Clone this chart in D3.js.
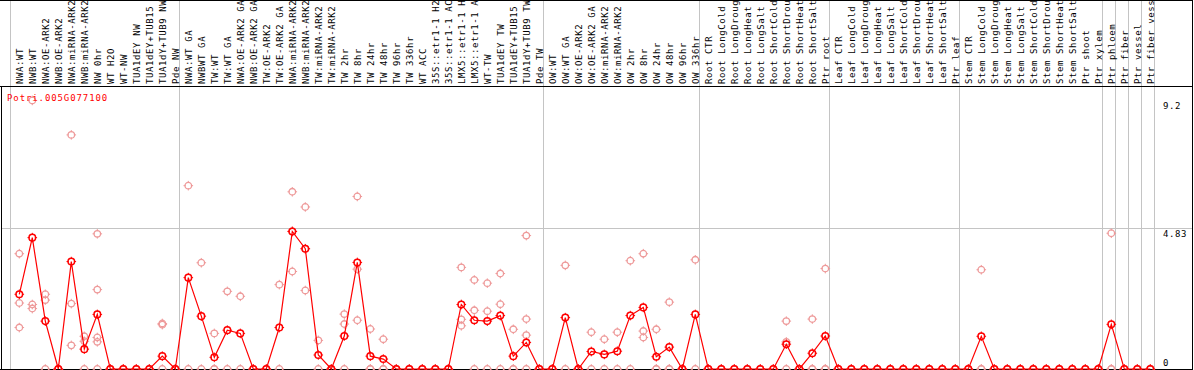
<!DOCTYPE html>
<html>
<head>
<meta charset="utf-8">
<script src="https://cdn.jsdelivr.net/npm/d3@7"></script>
<style>
  body { margin: 0; background: #fff; }
  svg { display: block; }
  text { font-family: 'DejaVu Sans Mono', monospace; font-size: 9px; letter-spacing: 0.6px; }
</style>
</head>
<body>
<div id="chart"></div>
<script>
const gene = 'Potri.005G077100';

const samples = [
  'NWA:WT', 'NWB:WT', 'NWA:OE-ARK2', 'NWB:OE-ARK2', 'NWA:miRNA-ARK2', 'NWB:miRNA-ARK2', 'NW 0hr', 'WT H2O', 'WT-NW',
  'TUA1dEY NW', 'TUA1dEY+TUB15 NW', 'TUA1dY+TUB9 NW', 'Pde NW',
  'NWA:WT GA', 'NWBWT GA', 'TW:WT', 'TW:WT GA', 'NWA:OE-ARK2 GA', 'NWB:OE-ARK2 GA', 'TW:OE-ARK2', 'TW:OE-ARK2 GA',
  'NWA:miRNA-ARK2', 'NWB:miRNA-ARK2', 'TW:miRNA-ARK2', 'TW:miRNA-ARK2 GA', 'TW 2hr', 'TW 8hr', 'TW 24hr', 'TW 48hr',
  'TW 96hr', 'TW 336hr', 'WT ACC', '35S::etr1-1 H2O', '35S::etr1-1 ACC', 'LMX5::etr1-1 H2O', 'LMX5::etr1-1 ACC',
  'WT-TW', 'TUA1dEY TW', 'TUA1dEY+TUB15 TW', 'TUA1dY+TUB9 TW', 'Pde TW',
  'OW:WT', 'OW:WT GA', 'OW:OE-ARK2', 'OW:OE-ARK2 GA', 'OW:miRNA-ARK2', 'OW:miRNA-ARK2 GA', 'OW 2hr', 'OW 8hr',
  'OW 24hr', 'OW 48hr', 'OW 96hr', 'OW 336hr',
  'Root CTR', 'Root LongCold', 'Root LongDrought', 'Root LongHeat', 'Root LongSalt', 'Root ShortCold',
  'Root ShortDrought', 'Root ShortHeat', 'Root ShortSalt', 'Ptr root',
  'Leaf CTR', 'Leaf LongCold', 'Leaf LongDrought', 'Leaf LongHeat', 'Leaf LongSalt', 'Leaf ShortCold',
  'Leaf ShortDrought', 'Leaf ShortHeat', 'Leaf ShortSalt', 'Ptr leaf',
  'Stem CTR', 'Stem LongCold', 'Stem LongDrought', 'Stem LongHeat', 'Stem LongSalt', 'Stem ShortCold',
  'Stem ShortDrought', 'Stem ShortHeat', 'Stem ShortSalt', 'Ptr shoot', 'Ptr xylem',
  'Ptr phloem', 'Ptr fiber', 'Ptr vessel', 'Ptr fiber vessel'
];

// mean expression per sample
const means = [
  2.56, 4.50, 1.64, 0, 3.68, 0.68, 1.87, 0, 0, 0, 0, 0.44, 0,
  3.13, 1.81, 0.40, 1.33, 1.22, 0, 0, 1.42, 4.71, 4.12, 0.48, 0, 1.13, 3.65, 0.44, 0.34,
  0, 0, 0, 0, 0, 2.21, 1.67, 1.64, 1.83, 0.44, 0.91, 0,
  0, 1.76, 0, 0.60, 0.50, 0.61, 1.83, 2.11, 0.42, 0.75, 0, 1.87,
  0, 0, 0, 0, 0, 0, 0.85, 0, 0.54, 1.13,
  0, 0, 0, 0, 0, 0, 0, 0, 0, 0,
  0, 1.12, 0, 0, 0, 0, 0, 0, 0, 0, 0,
  1.53, 0, 0, 0
];

// replicate values per sample
const replicates = [
  [3.95, 2.26, 1.42], [9.2, 2.21, 2.07], [2.56, 2.36, 0], [0, 0, 0], [8.02, 2.24, 0.81], [1.12, 0.95, 0],
  [4.63, 2.72, 1.08, 0.93, 0], [0, 0], [0, 0], [0, 0], [0, 0], [1.56, 1.52, 0], [0, 0],
  [6.28, 0], [3.64, 0], [1.22, 0, 0], [2.66, 0], [2.49, 0], [0, 0], [0, 0], [2.89, 0],
  [6.07, 4.72, 3.34], [5.55, 4.12, 2.69], [0.98, 0], [0, 0], [1.88, 1.54, 0], [5.91, 3.42, 1.67],
  [1.37, 0, 0], [1.02, 0, 0], [0, 0], [0, 0], [0, 0], [0, 0], [0, 0], [3.48, 1.70, 1.48],
  [3.05, 2.01, 0], [2.94, 1.98, 0], [3.27, 2.22, 0], [1.36, 0, 0], [4.57, 1.71, 1.16, 0], [0, 0],
  [0, 0], [3.55, 0], [0, 0], [1.26, 0], [1.02, 0], [1.26, 0], [3.71, 0], [3.95, 1.30, 1.08],
  [1.36, 0, 0], [2.29, 0, 0], [0, 0], [3.74, 0],
  [0, 0], [0, 0], [0, 0], [0, 0], [0, 0], [0, 0], [1.64, 0.93, 0], [0, 0], [1.71, 0, 0], [3.44, 0, 0],
  [0, 0], [0, 0], [0, 0], [0, 0], [0, 0], [0, 0], [0, 0], [0, 0], [0, 0], [0, 0],
  [0, 0], [3.40, 0, 0], [0, 0], [0, 0], [0, 0], [0, 0], [0, 0], [0, 0], [0, 0], [0, 0], [0, 0],
  [4.65, 0, 0], [0, 0], [0, 0], [0, 0]
];

// sample index where each separator line sits
const dividers = [0, 13, 41, 53, 63, 73, 84, 85, 86, 87, 88];
const yTicks = [9.2, 4.83, 0];
const gridValues = [4.83];
const yMax = 9.66;

const width = 1194;
const height = 370;
const plotTop = 87;
const plotBottom = 369;
const colStep = 13;
const left = 10;

const svg = d3.select('#chart').append('svg')
  .attr('width', width)
  .attr('height', height);

const x = d3.scaleBand()
  .domain(d3.range(samples.length))
  .range([left, left + colStep * samples.length]);
const cx = i => x(i) + 9.3;

const y = d3.scaleLinear().domain([0, yMax]).range([plotBottom, plotTop]);

// separators
svg.append('g').selectAll('line')
  .data(dividers)
  .enter().append('line')
  .attr('x1', d => (d < samples.length ? x(d) : x(d - 1) + x.bandwidth()) + 0.5)
  .attr('x2', d => (d < samples.length ? x(d) : x(d - 1) + x.bandwidth()) + 0.5)
  .attr('y1', 0).attr('y2', plotBottom)
  .attr('stroke', '#c4c4c4');

svg.append('g').selectAll('line')
  .data(gridValues)
  .enter().append('line')
  .attr('x1', 1).attr('x2', 1192)
  .attr('y1', d => Math.round(y(d)) + 0.5)
  .attr('y2', d => Math.round(y(d)) + 0.5)
  .attr('stroke', '#c4c4c4');

// frame
svg.append('line').attr('x1', 0).attr('x2', 1193).attr('y1', plotTop - 0.5).attr('y2', plotTop - 0.5).attr('stroke', '#000');
svg.append('line').attr('x1', 0).attr('x2', 1193).attr('y1', plotBottom + 0.5).attr('y2', plotBottom + 0.5).attr('stroke', '#000');
svg.append('line').attr('x1', 1.5).attr('x2', 1.5).attr('y1', plotTop).attr('y2', height).attr('stroke', '#000');
svg.append('line').attr('x1', 1192.5).attr('x2', 1192.5).attr('y1', 0).attr('y2', height).attr('stroke', '#000');
svg.append('line').attr('x1', 0).attr('x2', 1193).attr('y1', 0.5).attr('y2', 0.5).attr('stroke', '#000');

// sample labels
svg.append('g').selectAll('text')
  .data(samples)
  .enter().append('text')
  .attr('transform', (d, i) => 'translate(' + (cx(i) + 3.2) + ',' + 84 + ') rotate(-90)')
  .attr('fill', '#000')
  .text(d => d);

// y tick labels
svg.append('g').selectAll('text')
  .data(yTicks)
  .enter().append('text')
  .attr('x', 1163)
  .attr('y', d => y(d) + (d === 0 ? -3 : 9))
  .attr('fill', '#000')
  .text(d => d);

// replicates
const reps = [];
replicates.forEach((arr, i) => arr.forEach(v => reps.push({ i: i, v: v })));

function marker(g, data, color, sw) {
  const m = g.selectAll('g')
    .data(data)
    .enter().append('g')
    .attr('transform', d => 'translate(' + cx(d.i) + ',' + y(d.v) + ')');
  m.append('circle').attr('r', 3.3).attr('fill', 'none').attr('stroke', color).attr('stroke-width', sw);
  m.append('path')
    .attr('d', 'M0,-2.6V-4.8M0,2.6V4.8M-2.6,0H-4.8M2.6,0H4.8')
    .attr('stroke', color).attr('stroke-width', 1);
}

marker(svg.append('g'), reps, '#ee9a9a', 1.3);

// mean line
const line = d3.line().x((d, i) => cx(i)).y(d => y(d));
svg.append('path')
  .datum(means)
  .attr('d', line)
  .attr('fill', 'none')
  .attr('stroke', '#ff0000')
  .attr('stroke-width', 1.2);

marker(svg.append('g'), means.map((v, i) => ({ i: i, v: v })), '#ff0000', 1.5);

svg.append('text')
  .attr('x', 7).attr('y', 101)
  .attr('fill', '#ff0000')
  .style('letter-spacing', '0.9px')
  .text(gene);
</script>
</body>
</html>
